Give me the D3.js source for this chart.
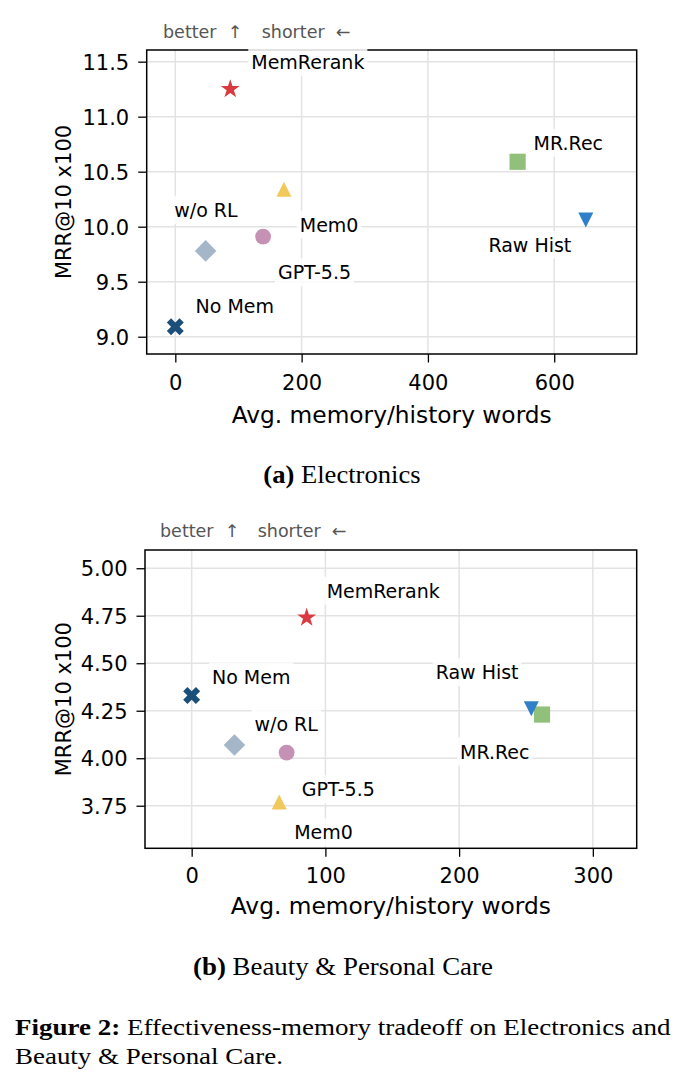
<!DOCTYPE html>
<html>
<head>
<meta charset="utf-8">
<script src="https://cdn.jsdelivr.net/npm/d3@7"></script>
<style>
  html, body { margin: 0; padding: 0; background: #fff; }
  svg { display: block; }
</style>
</head>
<body>
<div id="chart"></div>
<script>
// ---------------- DATA ----------------
const methods = ["MemRerank", "MR.Rec", "Raw Hist", "Mem0", "GPT-5.5", "w/o RL", "No Mem"];
const markerShapes = ["star", "square", "triDown", "circle", "triUp", "diamond", "xfilled"];
const markerColors = ["#d93a3f", "#90c07a", "#2f80c9", "#c591b5", "#f1c85b", "#a4b6c8", "#1a4f7a"];

// (a) Electronics
const elecWords = [87, 542, 650, 139, 172, 48, 0];
const elecMRR   = [11.25, 10.59, 10.06, 9.91, 10.34, 9.78, 9.09];
const elecXTicks = [0, 200, 400, 600];
const elecYTicks = [9.0, 9.5, 10.0, 10.5, 11.0, 11.5];

// (b) Beauty & Personal Care
const beautyWords = [86, 262, 254, 71, 65.5, 32, 0];
const beautyMRR   = [4.74, 4.23, 4.26, 4.03, 3.77, 4.07, 4.33];
const beautyXTicks = [0, 100, 200, 300];
const beautyYTicks = [3.75, 4.00, 4.25, 4.50, 4.75, 5.00];

const xLabel = "Avg. memory/history words";
const yLabel = "MRR@10 x100";
const hintBetter = "better  ↑";
const hintShorter = "shorter  ←";
const captionA = ["(a)", " Electronics"];
const captionB = ["(b)", " Beauty & Personal Care"];
const figCaption1 = ["Figure 2:", " Effectiveness-memory tradeoff on Electronics and"];
const figCaption2 = "Beauty & Personal Care.";

// ---------------- LAYOUT ----------------
const W = 686, H = 1088;
const panels = [
  {
    words: elecWords, mrr: elecMRR, xTicks: elecXTicks, yTicks: elecYTicks, yFmt: ".1f",
    xDomain: [-45.3, 730.6], yDomain: [8.843, 11.606],
    box: { l: 146.7, r: 636.7, t: 50, b: 354 },
    xLabelOff: 68.5, tickOff: 35.5, yLabelX: 63,
    hint: { x1: 163, x2: 261.7, y: 37.5 },
    caption: captionA, cap: { x1: 263.3, x2: 420.7, y: 483 },
    // label offsets (px) relative to marker centre: text left / baseline
    labelOff: [[21, -20], [16, -12], [-97.4, 31.7], [36.7, -5], [-6, 90], [-31.4, -34], [20.3, -14]]
  },
  {
    words: beautyWords, mrr: beautyMRR, xTicks: beautyXTicks, yTicks: beautyYTicks, yFmt: ".2f",
    xDomain: [-34.9, 332.8], yDomain: [3.526, 5.096],
    box: { l: 145, r: 636.7, t: 550, b: 848.3 },
    xLabelOff: 66, tickOff: 34.3, yLabelX: 63.5,
    hint: { x1: 160, x2: 257.7, y: 537 },
    caption: captionB, cap: { x1: 193, x2: 493, y: 975 },
    labelOff: [[20, -20], [-82, 44], [-95.7, -29.7], [7.6, 86.7], [22.4, -5.6], [20, -14], [20.3, -12]]
  }
];

const sansFont = "'DejaVu Sans', sans-serif";
const serifFont = "'Liberation Serif', 'Times New Roman', serif";

// marker path generators (centered at 0,0)
function markerPath(shape) {
  const p = d3.path();
  if (shape === "star") {
    const R = 10, r = R * 0.381966;
    for (let i = 0; i < 10; i++) {
      const a = -Math.PI / 2 + i * Math.PI / 5;
      const rr = i % 2 === 0 ? R : r;
      const x = rr * Math.cos(a), y = rr * Math.sin(a);
      if (i === 0) p.moveTo(x, y); else p.lineTo(x, y);
    }
    p.closePath();
  } else if (shape === "square") {
    const h = 8.1; p.rect(-h, -h, 2 * h, 2 * h);
  } else if (shape === "circle") {
    p.arc(0, 0, 7.9, 0, 2 * Math.PI);
  } else if (shape === "triUp") {
    const r = 7.5; p.moveTo(0, -r); p.lineTo(r, r); p.lineTo(-r, r); p.closePath();
  } else if (shape === "triDown") {
    const r = 7.5; p.moveTo(0, r); p.lineTo(r, -r); p.lineTo(-r, -r); p.closePath();
  } else if (shape === "diamond") {
    const r = 10.8; p.moveTo(0, -r); p.lineTo(r, 0); p.lineTo(0, r); p.lineTo(-r, 0); p.closePath();
  } else if (shape === "xfilled") {
    const L = 9.0, t = L / 3;
    const pts = [[-t, -L], [t, -L], [t, -t], [L, -t], [L, t], [t, t], [t, L], [-t, L], [-t, t], [-L, t], [-L, -t], [-t, -t]];
    const c = Math.SQRT1_2;
    pts.forEach((q, i) => {
      const x = (q[0] - q[1]) * c, y = (q[0] + q[1]) * c;
      if (i === 0) p.moveTo(x, y); else p.lineTo(x, y);
    });
    p.closePath();
  }
  return p.toString();
}

const svg = d3.select("#chart").append("svg")
  .attr("width", W).attr("height", H)
  .attr("viewBox", `0 0 ${W} ${H}`);

svg.append("rect").attr("width", W).attr("height", H).attr("fill", "#fff");

function fitText(sel, x1, x2) {
  const node = sel.node();
  const w = node.getComputedTextLength();
  const target = x2 - x1;
  const sx = target / w;
  const y = +sel.attr("y");
  sel.attr("x", 0).attr("y", 0)
     .attr("transform", `translate(${x1},${y}) scale(${sx},1)`);
}

panels.forEach(pn => {
  const b = pn.box;
  const x = d3.scaleLinear().domain(pn.xDomain).range([b.l, b.r]);
  const y = d3.scaleLinear().domain(pn.yDomain).range([b.b, b.t]);
  const g = svg.append("g");

  // grid
  g.append("g").selectAll("line").data(pn.xTicks).join("line")
    .attr("x1", d => x(d)).attr("x2", d => x(d))
    .attr("y1", b.t).attr("y2", b.b)
    .attr("stroke", "#e3e3e3").attr("stroke-width", 1.5);
  g.append("g").selectAll("line").data(pn.yTicks).join("line")
    .attr("y1", d => y(d)).attr("y2", d => y(d))
    .attr("x1", b.l).attr("x2", b.r)
    .attr("stroke", "#e3e3e3").attr("stroke-width", 1.5);

  // axes
  const xa = g.append("g").attr("transform", `translate(0,${b.b})`)
    .call(d3.axisBottom(x).tickValues(pn.xTicks).tickSize(8.5).tickPadding(10).tickFormat(d3.format("d")));
  const ya = g.append("g").attr("transform", `translate(${b.l},0)`)
    .call(d3.axisLeft(y).tickValues(pn.yTicks).tickSize(8.5).tickPadding(9).tickFormat(d3.format(pn.yFmt)));
  [xa, ya].forEach(a => {
    a.select(".domain").remove();
    a.selectAll(".tick line").attr("stroke", "#000").attr("stroke-width", 1.3);
    a.selectAll(".tick text").attr("fill", "#000")
      .style("font-family", sansFont).style("font-size", "21px");
  });
  xa.selectAll(".tick text").attr("y", pn.tickOff).attr("dy", 0);
  ya.selectAll(".tick text").attr("dy", "0.36em");

  // frame
  g.append("rect").attr("x", b.l).attr("y", b.t)
    .attr("width", b.r - b.l).attr("height", b.b - b.t)
    .attr("fill", "none").attr("stroke", "#000").attr("stroke-width", 1.5);

  // axis labels
  g.append("text").attr("x", (b.l + b.r) / 2).attr("y", b.b + pn.xLabelOff)
    .attr("text-anchor", "middle").style("font-family", sansFont).style("font-size", "23.3px")
    .attr("fill", "#000").text(xLabel);
  g.append("text")
    .attr("transform", `translate(${pn.yLabelX},${(b.t + b.b) / 2}) rotate(-90)`)
    .attr("text-anchor", "middle").attr("dy", "0.36em")
    .style("font-family", sansFont).style("font-size", "21px")
    .attr("fill", "#000").text(yLabel);

  // hint
  g.append("text").attr("x", pn.hint.x1).attr("y", pn.hint.y).style("white-space", "pre")
    .style("font-family", sansFont).style("font-size", "17.5px").attr("fill", "#555").text(hintBetter);
  g.append("text").attr("x", pn.hint.x2).attr("y", pn.hint.y).style("white-space", "pre")
    .style("font-family", sansFont).style("font-size", "17.5px").attr("fill", "#555").text(hintShorter);

  // labels with white boxes
  const lg = g.append("g");
  methods.forEach((m, i) => {
    const px = x(pn.words[i]), py = y(pn.mrr[i]);
    const off = pn.labelOff[i];
    const t = lg.append("text").attr("x", px + off[0]).attr("y", py + off[1])
      .style("font-family", sansFont).style("font-size", "19px").attr("fill", "#000").text(m);
    const bb = t.node().getBBox();
    const pad = 3;
    lg.insert("rect", () => t.node())
      .attr("x", bb.x - pad).attr("y", bb.y - pad)
      .attr("width", bb.width + 2 * pad).attr("height", bb.height + 2 * pad)
      .attr("fill", "#fff").attr("fill-opacity", 0.85);
  });

  // markers
  g.append("g").selectAll("path").data(methods).join("path")
    .attr("d", (d, i) => markerPath(markerShapes[i]))
    .attr("transform", (d, i) => `translate(${x(pn.words[i])},${y(pn.mrr[i])})`)
    .attr("fill", (d, i) => markerColors[i]);

  // sub caption
  const ct = svg.append("text").attr("y", pn.cap.y)
    .style("font-family", serifFont).style("font-size", "24.5px").attr("fill", "#000");
  ct.append("tspan").style("font-weight", "bold").text(pn.caption[0]);
  ct.append("tspan").text(pn.caption[1]);
  fitText(ct, pn.cap.x1, pn.cap.x2);
});

// figure caption
const fc1 = svg.append("text").attr("y", 1035)
  .style("font-family", serifFont).style("font-size", "23px").attr("fill", "#000");
fc1.append("tspan").style("font-weight", "bold").text(figCaption1[0]);
fc1.append("tspan").text(figCaption1[1]);
fitText(fc1, 15, 671);

const fc2 = svg.append("text").attr("y", 1064)
  .style("font-family", serifFont).style("font-size", "23px").attr("fill", "#000")
  .text(figCaption2);
fitText(fc2, 15, 283);
</script>
</body>
</html>
